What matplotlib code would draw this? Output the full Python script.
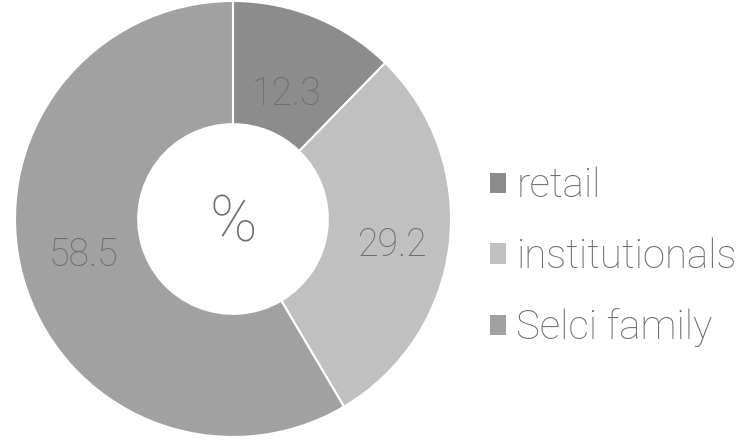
import numpy as np
import matplotlib.pyplot as plt
from matplotlib.patches import Patch

labels = ['retail', 'institutionals', 'Selci family']
shares = [12.3, 29.2, 58.5]
colors = ['#8c8c8c', '#c0c0c0', '#a1a1a1']
text_color = '#6e6e6e'

plt.rcParams['font.family'] = ['Roboto', 'DejaVu Sans']

W, H = 746, 443
fig = plt.figure(figsize=(W / 100, H / 100), dpi=100)

# donut centred at (233, 219) px, outer radius 218 px
cx, cy, r = 233, 219, 218
ax = fig.add_axes([(cx - r) / W, (H - cy - r) / H, 2 * r / W, 2 * r / H])
wedges, _, autotexts = ax.pie(
    shares, colors=colors, startangle=90, counterclock=False,
    autopct=lambda p: f'{p:.1f}', pctdistance=0.72,
    wedgeprops=dict(width=0.565, edgecolor='white', linewidth=1.5),
    textprops=dict(color=text_color, fontsize=27, fontweight='light'))
ax.set_xlim(-1, 1)
ax.set_ylim(-1, 1)
ax.set_aspect('equal')

# nudge value labels along each wedge's mid angle
for w, t, d, dy in zip(wedges, autotexts, [0.65, 0.74, 0.71], [-0.03, -0.03, 0.02]):
    mid = np.deg2rad((w.theta1 + w.theta2) / 2)
    t.set_position((d * np.cos(mid), d * np.sin(mid) + dy))

ax.text(0, -0.02, '%', ha='center', va='center', fontsize=46,
        color=text_color, fontweight='light')

handles = [Patch(facecolor=c, edgecolor='none') for c in colors]
fig.legend(handles, labels, loc='center left', bbox_to_anchor=(454 / W, 1 - 257 / H),
           frameon=False, labelcolor=text_color,
           handlelength=0.4, handleheight=0.4, handletextpad=0.25,
           labelspacing=0.8, prop=dict(size=29, weight='light'))

fig.savefig('out.png', dpi=100)
